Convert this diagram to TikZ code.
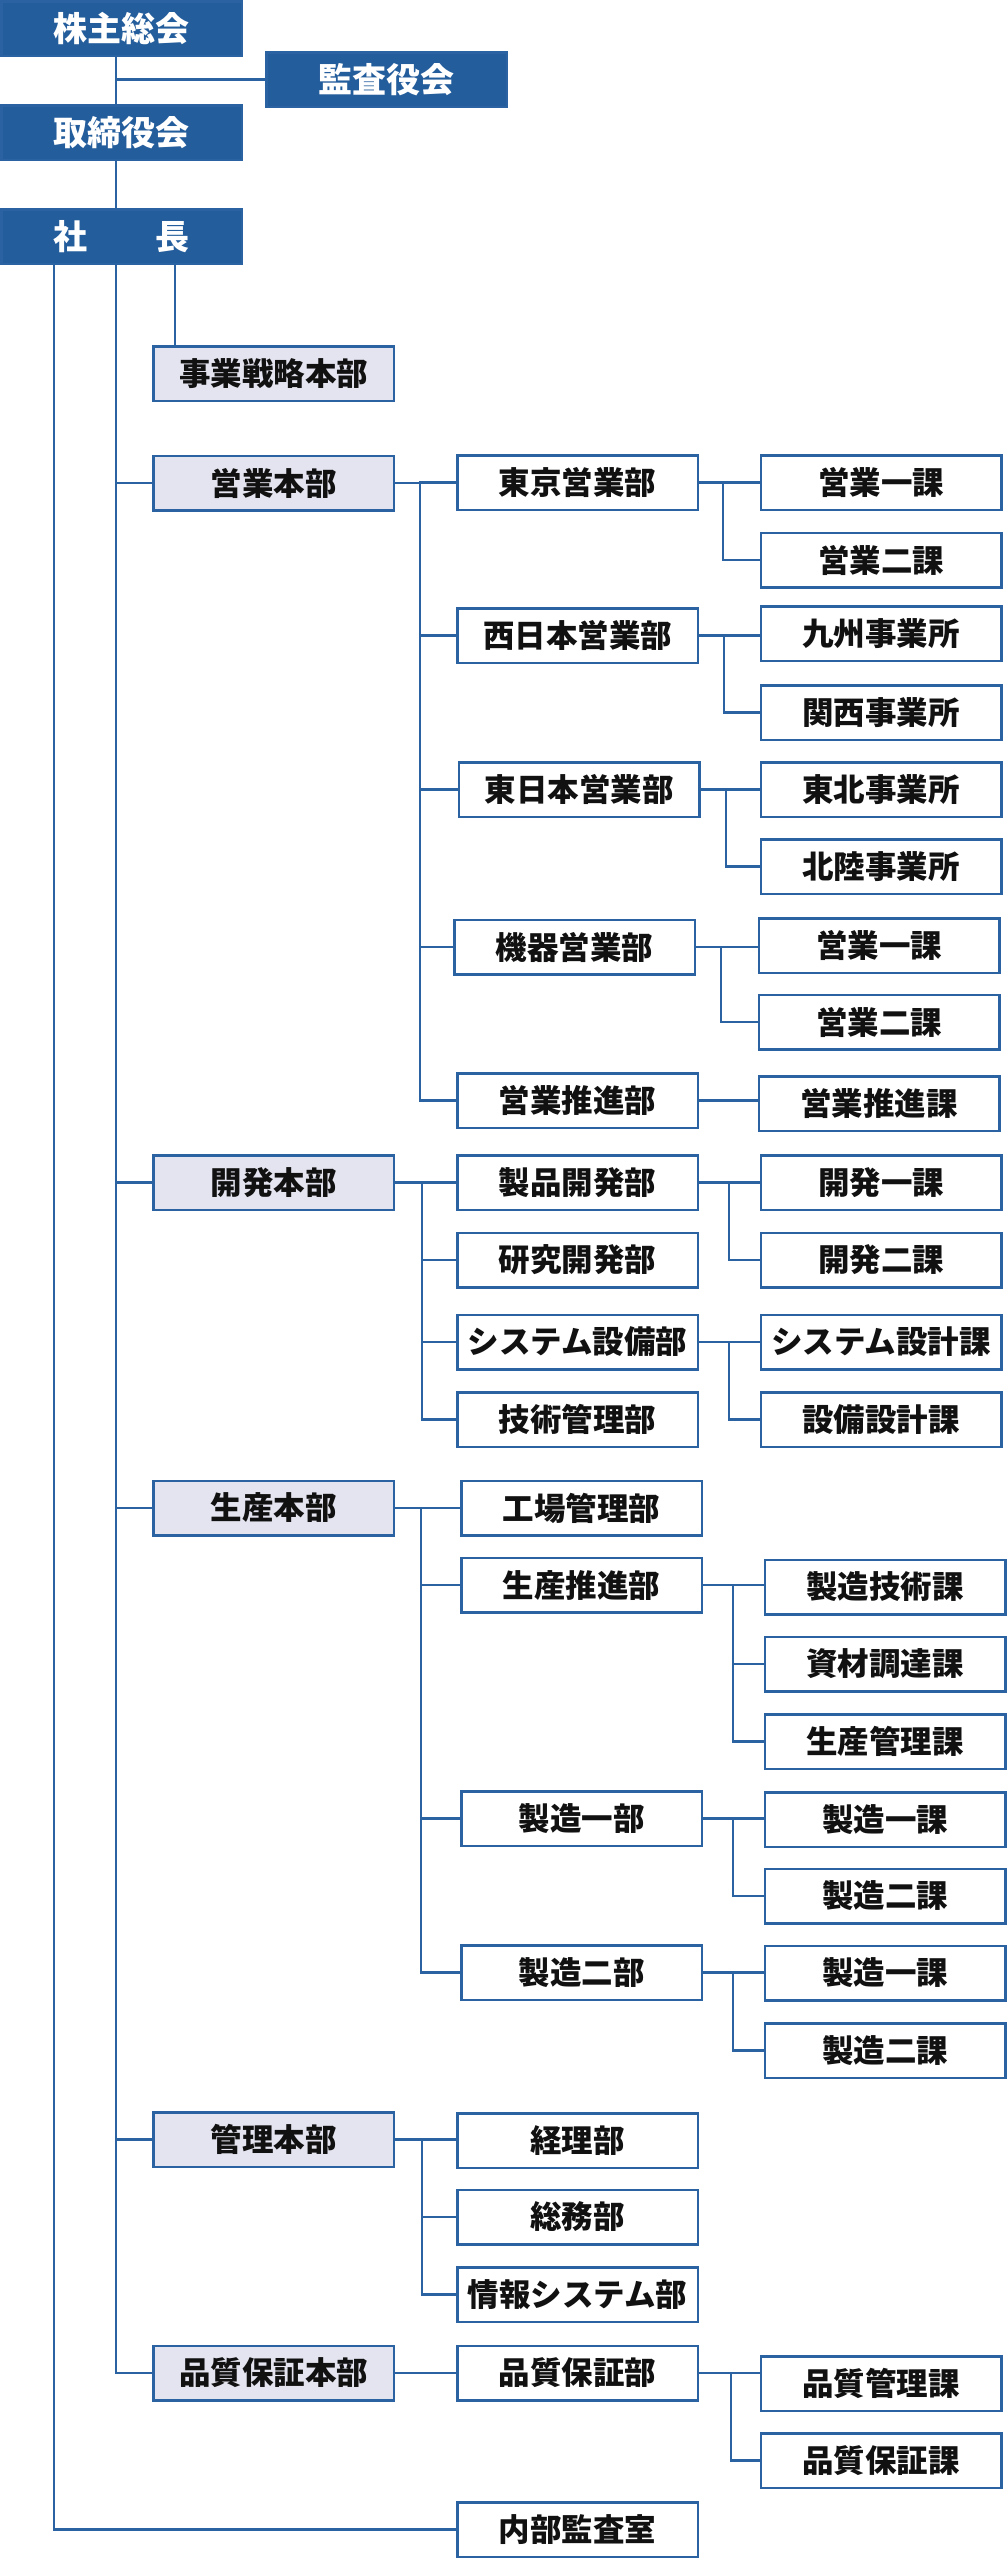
\documentclass[tikz,border=0pt]{standalone}
\usepackage{fontspec}
\setmainfont{Noto Sans CJK JP}
\definecolor{boxblue}{HTML}{245D9C}
\definecolor{lineblue}{HTML}{2B62A1}
\definecolor{hqfill}{HTML}{E4E4F0}
\definecolor{textdark}{HTML}{111111}
\begin{document}
\begin{tikzpicture}[x=1pt,y=-1pt,
  basebox/.style={draw=lineblue, line width=2.5pt, minimum width=240.5pt, minimum height=54.5pt, inner sep=0pt, anchor=center},
  bluebox/.style={basebox, fill=boxblue, text=white, font=\bfseries\fontsize{34}{34}\selectfont},
  hqbox/.style={basebox, fill=hqfill, text=textdark, font=\bfseries\fontsize{31.5}{31.5}\selectfont},
  deptbox/.style={basebox, fill=white, text=textdark, font=\bfseries\fontsize{31.5}{31.5}\selectfont},
  conn/.style={draw=lineblue, line width=2.5pt}
]
\useasboundingbox (0,0) rectangle (1008,2560);
\fill[white] (0,0) rectangle (1008,2560);

% spine coordinates
\coordinate (sL) at (54,0);
\coordinate (sA) at (116,0);
\coordinate (sR) at (175,0);
\coordinate (bEig) at (420,0);
\coordinate (bKai) at (422,0);
\coordinate (bSei) at (421,0);
\coordinate (bKan) at (422,0);

% top
\node[bluebox] (kabu) at (121.5,28.5) {株主総会};
\node[bluebox] (kansa) at (386.5,79.5) {監査役会};
\node[bluebox] (tori) at (121.5,132.5) {取締役会};
\node[bluebox] (shacho) at (121.5,236.5) {社　　長};

% headquarters
\node[hqbox] (jigyo) at (273.5,373.5) {事業戦略本部};
\node[hqbox] (eigyo) at (273.5,483) {営業本部};
\node[hqbox] (kaihatsu) at (273.5,1182.5) {開発本部};
\node[hqbox] (seisan) at (273.5,1508) {生産本部};
\node[hqbox] (kanri) at (273.5,2139.5) {管理本部};
\node[hqbox] (hinshitsu) at (273.5,2373) {品質保証本部};

% departments
\node[deptbox] (tokyo) at (577.5,482.5) {東京営業部};
\node[deptbox] (nishi) at (577.5,635.5) {西日本営業部};
\node[deptbox] (higashi) at (579,789.5) {東日本営業部};
\node[deptbox] (kiki) at (574.5,947) {機器営業部};
\node[deptbox] (suishin) at (577.5,1100.5) {営業推進部};
\node[deptbox] (seihin) at (577.5,1182.5) {製品開発部};
\node[deptbox] (kenkyu) at (577.5,1260) {研究開発部};
\node[deptbox] (system) at (577.5,1342) {システム設備部};
\node[deptbox] (gijutsu) at (577.5,1419.5) {技術管理部};
\node[deptbox] (kojo) at (581.5,1508) {工場管理部};
\node[deptbox] (ssuishin) at (581.5,1585) {生産推進部};
\node[deptbox] (seizo1) at (581.5,1818.5) {製造一部};
\node[deptbox] (seizo2) at (581.5,1972.5) {製造二部};
\node[deptbox] (keiri) at (577.5,2140.5) {経理部};
\node[deptbox] (somu) at (577.5,2217) {総務部};
\node[deptbox] (joho) at (577.5,2294.5) {情報システム部};
\node[deptbox] (hbu) at (577.5,2373) {品質保証部};
\node[deptbox] (naibu) at (577.5,2529.5) {内部監査室};

% sections
\node[deptbox] (e1) at (881,482.5) {営業一課};
\node[deptbox] (e2) at (881,560) {営業二課};
\node[deptbox] (kyushu) at (881,633.5) {九州事業所};
\node[deptbox] (kansai) at (881,712.5) {関西事業所};
\node[deptbox] (tohoku) at (881,789.5) {東北事業所};
\node[deptbox] (hokuriku) at (881,866.5) {北陸事業所};
\node[deptbox] (ke1) at (879,945.5) {営業一課};
\node[deptbox] (ke2) at (879,1022) {営業二課};
\node[deptbox] (suishinka) at (879,1103.5) {営業推進課};
\node[deptbox] (k1) at (881,1182.5) {開発一課};
\node[deptbox] (k2) at (881,1260) {開発二課};
\node[deptbox] (sysk) at (881,1342) {システム設計課};
\node[deptbox] (setsubi) at (881,1419.5) {設備設計課};
\node[deptbox] (gijutsuka) at (885,1587) {製造技術課};
\node[deptbox] (shizai) at (885,1664) {資材調達課};
\node[deptbox] (skanri) at (885,1741.5) {生産管理課};
\node[deptbox] (s11) at (885,1819.5) {製造一課};
\node[deptbox] (s12) at (885,1896) {製造二課};
\node[deptbox] (s21) at (885,1973) {製造一課};
\node[deptbox] (s22) at (885,2050.5) {製造二課};
\node[deptbox] (hkanri) at (881,2383.5) {品質管理課};
\node[deptbox] (hhosho) at (881,2460.5) {品質保証課};

% top connectors
\draw[conn] (kabu.south -| sA) -- (tori.north -| sA);
\draw[conn] (kansa.west -| sA) -- (kansa.west);
\draw[conn] (tori.south -| sA) -- (shacho.north -| sA);
\draw[conn] (shacho.south -| sR) -- (jigyo.north -| sR);
\draw[conn] (shacho.south -| sA) -- (hinshitsu.west -| sA) -- (hinshitsu.west);
\foreach \h in {eigyo,kaihatsu,seisan,kanri}
  \draw[conn] (\h.west -| sA) -- (\h.west);
\draw[conn] (shacho.south -| sL) -- (naibu.west -| sL) -- (naibu.west);

% headquarters to departments
\draw[conn] (eigyo.east) -- (eigyo.east -| bEig) -- (tokyo.west -| bEig) -- (tokyo.west);
\foreach \d in {nishi,higashi,kiki,suishin}
  \draw[conn] (tokyo.west -| bEig) |- (\d.west);
\draw[conn] (kaihatsu.east) -- (seihin.west);
\foreach \d in {kenkyu,system,gijutsu}
  \draw[conn] (kaihatsu.east -| bKai) |- (\d.west);
\draw[conn] (seisan.east) -- (kojo.west);
\foreach \d in {ssuishin,seizo1,seizo2}
  \draw[conn] (seisan.east -| bSei) |- (\d.west);
\draw[conn] (kanri.east) -- (keiri.west |- kanri.east);
\foreach \d in {somu,joho}
  \draw[conn] (kanri.east -| bKan) |- (\d.west);
\draw[conn] (hinshitsu.east) -- (hbu.west);

% departments to sections: first child straight, others via bus
\foreach \p/\bx/\a/\rest in {tokyo/723/e1/{e2},nishi/724/kyushu/{kansai},higashi/726/tohoku/{hokuriku},kiki/721/ke1/{ke2},seihin/729/k1/{k2},system/729/sysk/{setsubi},ssuishin/733/gijutsuka/{shizai,skanri},seizo1/733/s11/{s12},seizo2/733/s21/{s22},hbu/731/hkanri/{hhosho}} {
  \draw[conn] (\p.east) -- (\a.west |- \p.east);
  \foreach \c in \rest
    \draw[conn] (\p.east -| {\bx,0}) |- (\c.west);
}
\draw[conn] (suishin.east) -- (suishinka.west |- suishin.east);
\end{tikzpicture}
\end{document}
